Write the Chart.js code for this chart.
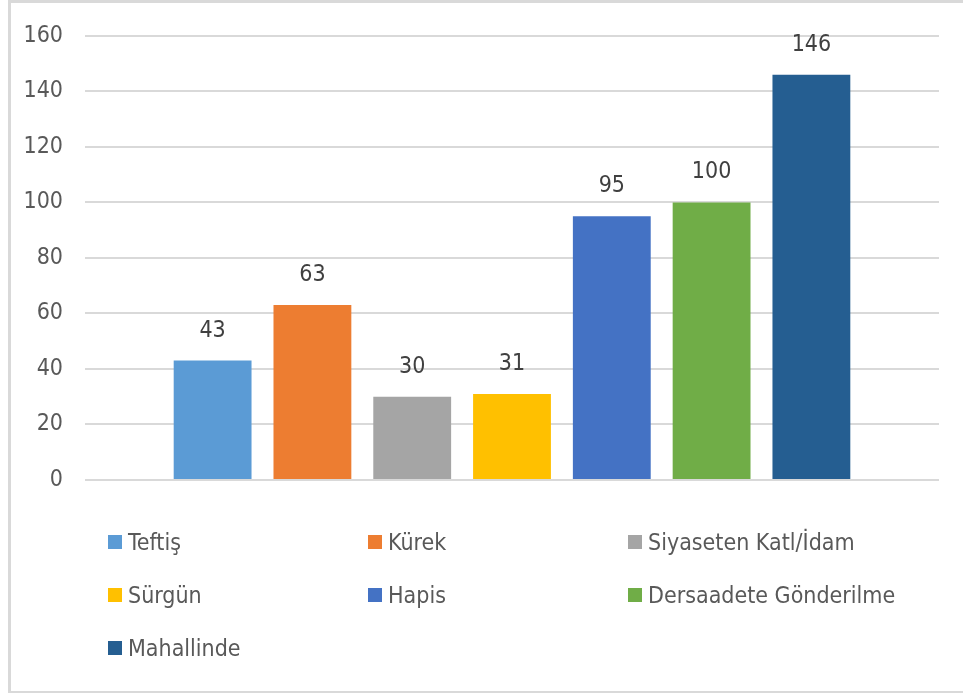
<!DOCTYPE html>
<html>
<head>
<meta charset="utf-8">
<script src="https://cdn.jsdelivr.net/npm/chart.js@4"></script>
<style>
  html, body { margin: 0; padding: 0; background: #fff; }
  body { width: 963px; height: 693px; position: relative; overflow: hidden; }
  .frame {
    position: absolute; left: 8px; top: 0; width: 1000px; height: 688px;
    border-top: 3px solid #d9d9d9; border-left: 3px solid #d9d9d9; border-bottom: 3px solid #d9d9d9;
    box-sizing: content-box;
  }
  #chart { position: absolute; left: 0; top: 0; }
  #legend {
    position: absolute; left: 108px; top: 529px;
    display: grid; grid-template-columns: 260px 260px 260px; grid-auto-rows: 53px;
    font-family: "Liberation Sans Narrow", "DejaVu Sans Condensed", "Liberation Sans", sans-serif;
    font-size: 23px; color: #595959; white-space: nowrap;
  }
  #legend .item { display: flex; align-items: center; height: 26px; }
  #legend .box { width: 14px; height: 14px; margin-right: 6px; flex: none; }
</style>
</head>
<body>
<div class="frame"></div>
<canvas id="chart" width="963" height="693"></canvas>
<div id="legend"></div>
<script>
const labels = ['Teftiş', 'Kürek', 'Siyaseten Katl/İdam', 'Sürgün', 'Hapis', 'Dersaadete Gönderilme', 'Mahallinde'];
const values = [43, 63, 30, 31, 95, 100, 146];
const colors = ['#5b9bd5', '#ed7d31', '#a5a5a5', '#ffc000', '#4472c4', '#70ad47', '#255e91'];
const yTicks = [0, 20, 40, 60, 80, 100, 120, 140, 160];

const fontFamily = '"Liberation Sans Narrow", "DejaVu Sans Condensed", "Liberation Sans", sans-serif';

// value labels above each bar
const barLabels = {
    id: 'barLabels',
    afterDatasetsDraw(chart) {
        const ctx = chart.ctx;
        ctx.save();
        ctx.font = '23px ' + fontFamily;
        ctx.fillStyle = '#404040';
        ctx.textAlign = 'center';
        ctx.textBaseline = 'middle';
        chart.data.datasets.forEach((ds, i) => {
            const bar = chart.getDatasetMeta(i).data[0];
            ctx.fillText(ds.data[0], bar.x, bar.y - 30);
        });
        ctx.restore();
    }
};

const chart = new Chart(document.getElementById('chart').getContext('2d'), {
    type: 'bar',
    data: {
        labels: [''],
        datasets: labels.map((name, i) => ({
            label: name,
            data: [values[i]],
            backgroundColor: colors[i],
            categoryPercentage: 0.818,
            barPercentage: 0.78
        }))
    },
    options: {
        responsive: false,
        animation: false,
        layout: { padding: { left: 10, right: 24, top: 35, bottom: 213 } },
        plugins: { legend: { display: false }, tooltip: { enabled: false } },
        scales: {
            x: { display: false },
            y: {
                min: 0,
                max: 160,
                afterBuildTicks: (scale) => { scale.ticks = yTicks.map(v => ({ value: v })); },
                afterFit: (scale) => { scale.width = 75; },
                border: { display: false },
                grid: { color: '#d9d9d9', lineWidth: 2, drawTicks: false },
                ticks: {
                    padding: 22,
                    color: '#595959',
                    font: { family: fontFamily, size: 23 }
                }
            }
        }
    },
    plugins: [barLabels]
});

// legend in three columns, like the original
const legend = document.getElementById('legend');
labels.forEach((name, i) => {
    const item = document.createElement('div');
    item.className = 'item';
    item.innerHTML = '<span class="box" style="background:' + colors[i] + '"></span><span>' + name + '</span>';
    legend.appendChild(item);
});
</script>
</body>
</html>
